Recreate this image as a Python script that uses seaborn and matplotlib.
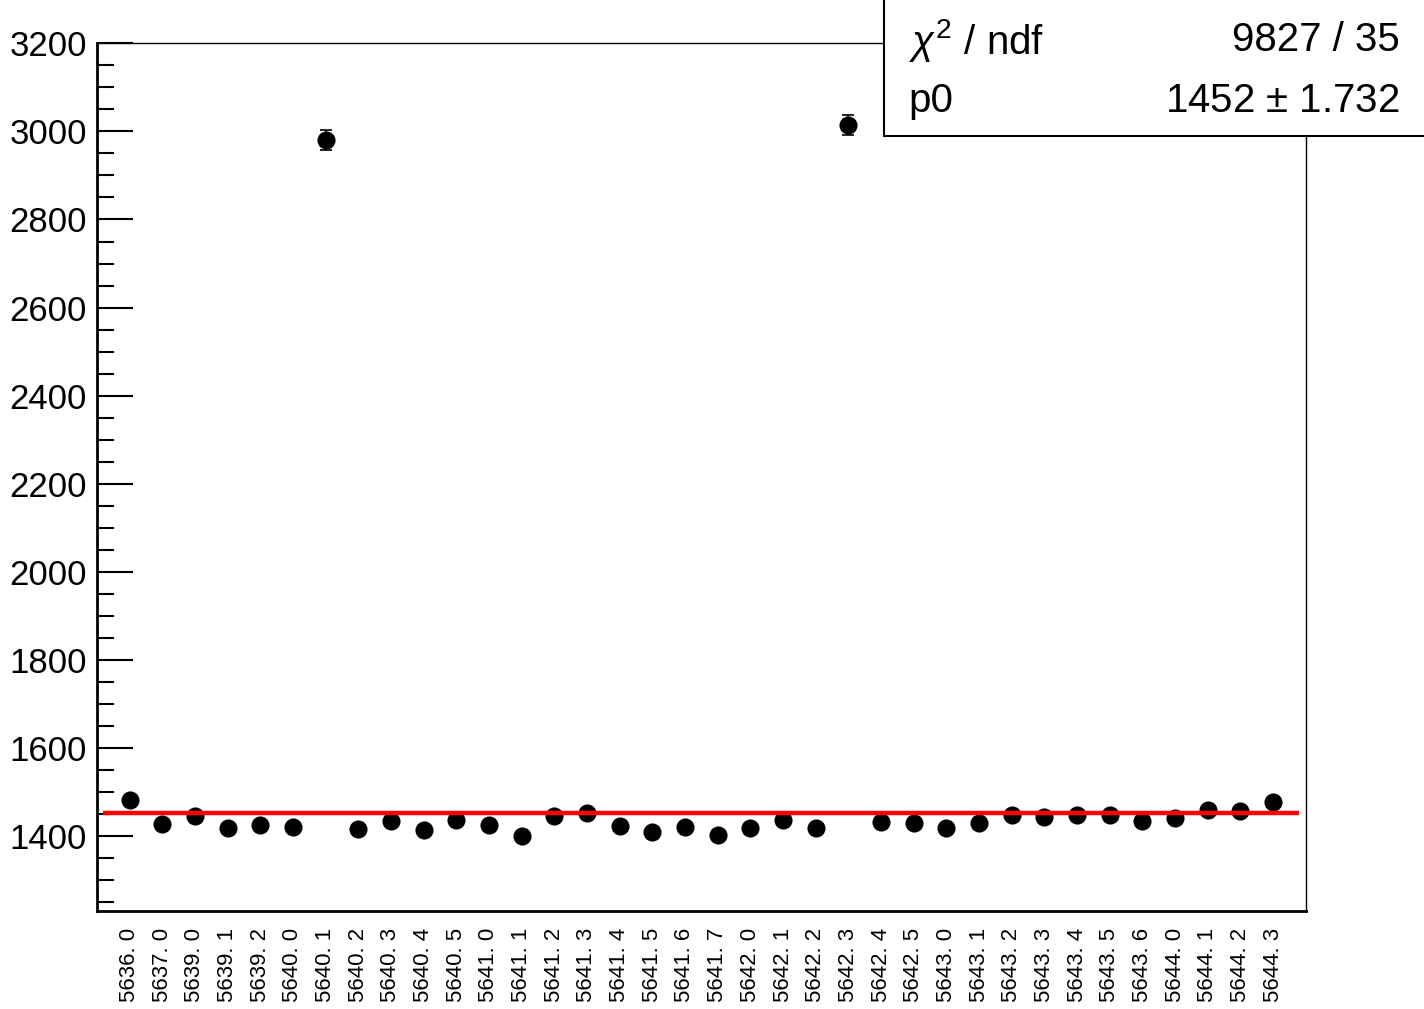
import numpy as np
import pandas as pd
import matplotlib
matplotlib.use("Agg")
import matplotlib.pyplot as plt
from matplotlib.ticker import MultipleLocator
import seaborn as sns

# run labels, measured values and their errors
runs = ["5636. 0", "5637. 0", "5639. 0", "5639. 1", "5639. 2", "5640. 0",
        "5640. 1", "5640. 2", "5640. 3", "5640. 4", "5640. 5", "5641. 0",
        "5641. 1", "5641. 2", "5641. 3", "5641. 4", "5641. 5", "5641. 6",
        "5641. 7", "5642. 0", "5642. 1", "5642. 2", "5642. 3", "5642. 4",
        "5642. 5", "5643. 0", "5643. 1", "5643. 2", "5643. 3", "5643. 4",
        "5643. 5", "5643. 6", "5644. 0", "5644. 1", "5644. 2", "5644. 3"]
values = [1481, 1426, 1445, 1418, 1424, 1421,
          2980, 1415, 1433, 1413, 1436, 1424,
          1399, 1445, 1452, 1422, 1408, 1420,
          1402, 1417, 1436, 1417, 3014, 1432,
          1430, 1418, 1429, 1447, 1443, 1448,
          1447, 1434, 1441, 1458, 1456, 1476]
errors = [8, 8, 8, 8, 8, 8,
          23, 8, 8, 8, 8, 8,
          8, 8, 8, 8, 8, 8,
          8, 8, 8, 8, 23, 8,
          8, 8, 8, 8, 8, 8,
          8, 8, 8, 8, 8, 8]

# fit result
p0 = 1452
p0_err = 1.732
chi2 = 9827
ndf = 35

df = pd.DataFrame({"run": runs, "value": values, "err": errors})
df["pos"] = np.arange(len(df))

sns.set_style("white")
plt.rcParams["font.family"] = ["Liberation Sans", "DejaVu Sans"]
plt.rcParams["text.color"] = "black"
plt.rcParams["xtick.color"] = "black"
plt.rcParams["ytick.color"] = "black"
plt.rcParams["mathtext.fontset"] = "custom"
plt.rcParams["mathtext.rm"] = "Liberation Sans"
plt.rcParams["mathtext.it"] = "Liberation Sans:italic"

fig = plt.figure(figsize=(14.24, 10.09), dpi=100)
ax = fig.add_axes([0.068, 0.097, 0.849, 0.860])

ax.errorbar(df["pos"], df["value"], yerr=df["err"], fmt="none",
            ecolor="black", elinewidth=1.2, capsize=4, capthick=1.2, zorder=2)
sns.scatterplot(data=df, x="pos", y="value", color="black", s=170,
                edgecolor="black", linewidth=0, ax=ax, zorder=3)

xlo, xhi = -1, len(df)
ax.hlines(p0, xlo + 0.2, xhi - 0.2, color="#ff0000", lw=3.2, zorder=4)

ax.set_xlim(xlo, xhi)
ax.set_ylim(1229, 3200)
ax.set_xlabel("")
ax.set_ylabel("")

ax.set_xticks(df["pos"])
ax.set_xticklabels(df["run"], rotation=90, fontsize=16)
ax.tick_params(axis="x", length=0, pad=12)

ax.set_yticks(np.arange(1400, 3201, 200))
ax.yaxis.set_minor_locator(MultipleLocator(50))
ax.tick_params(axis="y", which="both", left=True, direction="in")
ax.tick_params(axis="y", which="major", length=26, width=1.5,
               labelsize=25, pad=7)
ax.tick_params(axis="y", which="minor", length=12, width=1.5)

for side in ["left", "bottom"]:
    ax.spines[side].set_linewidth(2)
for side in ["top", "right"]:
    ax.spines[side].set_linewidth(1)
for s in ax.spines.values():
    s.set_color("black")

# stats box
box = plt.Rectangle((0.621, 0.865), 0.40, 0.14, transform=fig.transFigure,
                    facecolor="white", edgecolor="black", lw=1.5, zorder=10)
fig.patches.append(box)
fig.text(0.638, 0.960, r"$\chi^{2}$ / ndf", fontsize=29, va="center",
         ha="left", zorder=11)
fig.text(0.983, 0.960, f"{chi2} / {ndf}", fontsize=29, va="center",
         ha="right", zorder=11)
fig.text(0.638, 0.900, "p0", fontsize=29, va="center", ha="left", zorder=11)
fig.text(0.983, 0.900, f"{p0} $\\pm$ {p0_err}", fontsize=29, va="center",
         ha="right", zorder=11)

fig.savefig("out.png", dpi=100)
